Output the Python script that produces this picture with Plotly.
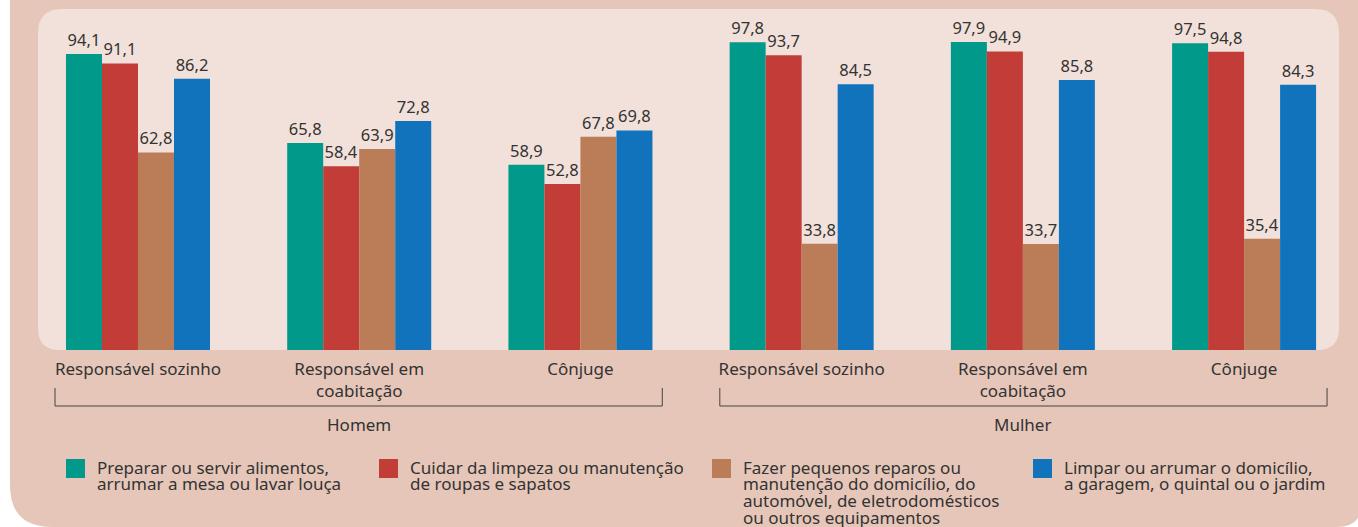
import plotly.graph_objects as go

# ---------------- data ----------------
groups = ["Homem", "Mulher"]
categories = ["Responsável sozinho", "Responsável em<br>coabitação", "Cônjuge",
              "Responsável sozinho", "Responsável em<br>coabitação", "Cônjuge"]
series_names = [
    "Preparar ou servir alimentos,<br>arrumar a mesa ou lavar louça",
    "Cuidar da limpeza ou manutenção<br>de roupas e sapatos",
    "Fazer pequenos reparos ou<br>manutenção do domicílio, do<br>automóvel, de eletrodomésticos<br>ou outros equipamentos",
    "Limpar ou arrumar o domicílio,<br>a garagem, o quintal ou o jardim",
]
preparar = [94.1, 65.8, 58.9, 97.8, 97.9, 97.5]
cuidar = [91.1, 58.4, 52.8, 93.7, 94.9, 94.8]
reparos = [62.8, 63.9, 67.8, 33.8, 33.7, 35.4]
limpar = [86.2, 72.8, 69.8, 84.5, 85.8, 84.3]
series_values = [preparar, cuidar, reparos, limpar]
colors = ["#00998A", "#C23C38", "#BB7C58", "#1173BC"]

# ---------------- layout geometry (pixels) ----------------
W, H = 1358, 527
L, R, T, B = 38, 19, 9, 177
PW, PH = W - L - R, H - T - B
FONT = "Noto Sans"
TXT = "#333333"


def px(x):
    return (x - L) / PW


def py(y):
    return (H - B - y) / PH


def rounded_path(x0, y0, x1, y1, rtl, rtr, rbr, rbl):
    pts = []
    pts.append(f"M{px(x0 + rtl)},{py(y0)}")
    pts.append(f"L{px(x1 - rtr)},{py(y0)}")
    pts.append(f"Q{px(x1)},{py(y0)} {px(x1)},{py(y0 + rtr)}")
    pts.append(f"L{px(x1)},{py(y1 - rbr)}")
    pts.append(f"Q{px(x1)},{py(y1)} {px(x1 - rbr)},{py(y1)}")
    pts.append(f"L{px(x0 + rbl)},{py(y1)}")
    pts.append(f"Q{px(x0)},{py(y1)} {px(x0)},{py(y1 - rbl)}")
    pts.append(f"L{px(x0)},{py(y0 + rtl)}")
    pts.append(f"Q{px(x0)},{py(y0)} {px(x0 + rtl)},{py(y0)}")
    return " ".join(pts) + " Z"


xs = list(range(len(categories)))

fig = go.Figure()
for name, vals, col in zip(series_names, series_values, colors):
    fig.add_trace(go.Bar(
        x=xs, y=vals, name=name.replace("<br>", " "), showlegend=False,
        marker=dict(color=col, line=dict(width=0)),
        texttemplate="%{y:.1f}", textposition="outside",
        textfont=dict(size=16.5, color=TXT, family=FONT),
        constraintext="none", cliponaxis=False,
    ))

shapes = [
    # outer background
    dict(type="path", xref="paper", yref="paper", layer="below",
         path=rounded_path(10, -10, 1362, 527, 0, 0, 25, 42),
         fillcolor="#E6C6B8", line=dict(width=0)),
    # inner panel
    dict(type="path", xref="paper", yref="paper", layer="below",
         path=rounded_path(38, 9, 1339, 350, 24, 24, 22, 22),
         fillcolor="#F2E1DA", line=dict(width=0)),
]
# group brackets
for g0, g1 in [(-0.375, 2.37), (2.63, 5.375)]:
    shapes.append(dict(
        type="path", xref="x", yref="paper",
        path=f"M{g0},{py(388)} L{g0},{py(406)} L{g1},{py(406)} L{g1},{py(388)}",
        line=dict(color="#444444", width=1)))

annotations = []
for i, g in enumerate(groups):
    annotations.append(dict(
        x=1 + 3 * i, y=py(424), xref="x", yref="paper", text=g,
        showarrow=False, font=dict(size=17, color=TXT, family=FONT),
        xanchor="center", yanchor="middle"))

# legend (squares + text lines with the reference's tight line spacing)
legend_x = [66, 379, 712, 1033]
SQ = 19
LINE = 16.8
for lx, name, col in zip(legend_x, series_names, colors):
    shapes.append(dict(type="rect", xref="paper", yref="paper",
                       x0=px(lx), x1=px(lx + SQ), y0=py(459), y1=py(459 + SQ),
                       fillcolor=col, line=dict(width=0)))
    for j, line in enumerate(name.split("<br>")):
        annotations.append(dict(
            x=px(lx + 29), y=py(467 + j * LINE), xref="paper", yref="paper",
            text=line, showarrow=False, xanchor="left", yanchor="middle",
            font=dict(size=17, color=TXT, family=FONT)))

fig.update_layout(
    width=W, height=H,
    margin=dict(l=L, r=R, t=T, b=B, pad=0, autoexpand=False),
    paper_bgcolor="white", plot_bgcolor="rgba(0,0,0,0)",
    separators=",.",
    barmode="group", bargap=0.349, bargroupgap=0,
    font=dict(family=FONT, color=TXT),
    xaxis=dict(range=[-0.452, 5.429], tickvals=xs, ticktext=categories,
               showgrid=False, zeroline=False, showline=False,
               ticks="", ticklabelstandoff=7, automargin=False,
               tickfont=dict(size=17, color=TXT, family=FONT)),
    yaxis=dict(range=[0, 108.4], visible=False, showgrid=False, zeroline=False),
    showlegend=False,
    shapes=shapes, annotations=annotations,
)

fig.write_html("out.html", config={"displayModeBar": False},
               post_script="document.body.style.margin='0px';")
